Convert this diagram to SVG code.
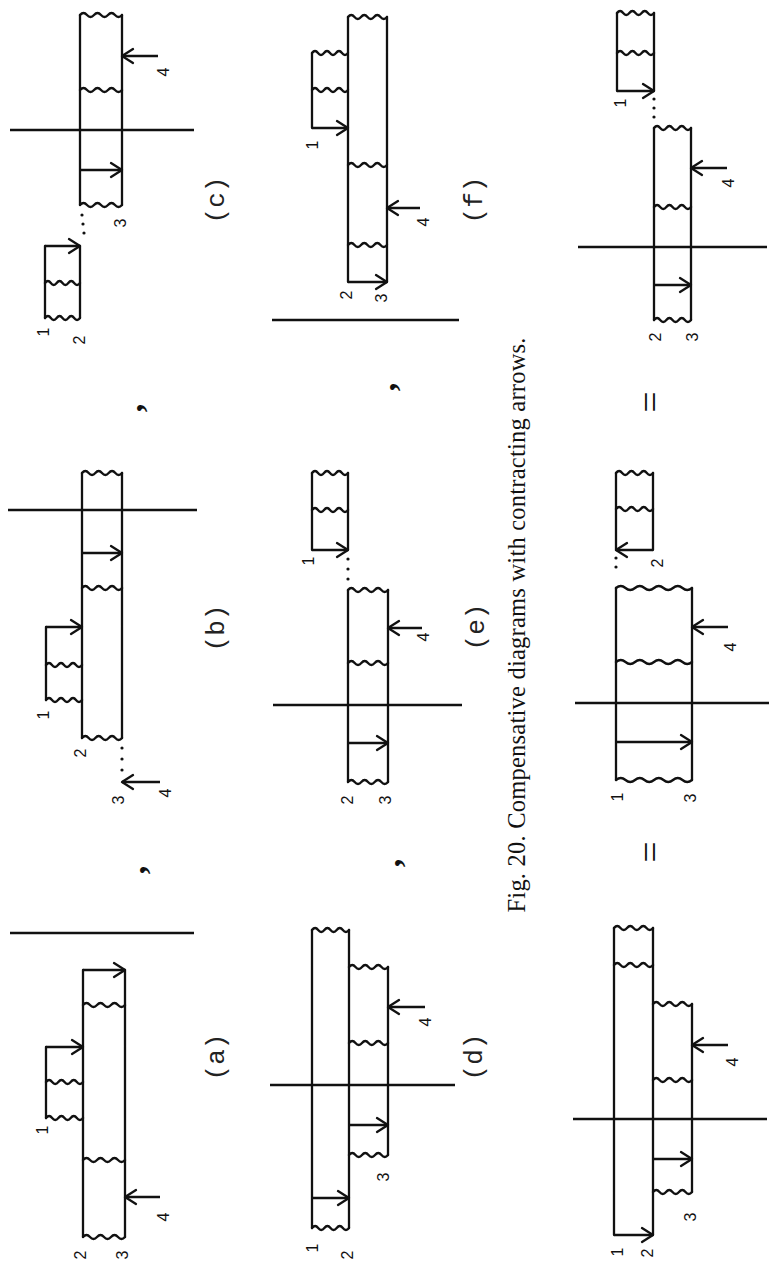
<svg xmlns="http://www.w3.org/2000/svg" width="769" height="1264" viewBox="0 0 769 1264">
<defs>
<marker id="ah" markerUnits="userSpaceOnUse" markerWidth="16" markerHeight="18" viewBox="0 0 16 18" refX="14" refY="9" orient="auto">
<path d="M3,2 L14,9 L3,16" fill="none" stroke="#111" stroke-width="2.3" stroke-linecap="round" stroke-linejoin="round"/>
</marker>
</defs>
<style>
.l{stroke:#111;stroke-width:2.3;fill:none;stroke-linecap:round;stroke-linejoin:round}
.c{stroke:#111;stroke-width:2.6;fill:none}
.a{stroke:#111;stroke-width:2.3;fill:none;marker-end:url(#ah)}
.n{font-family:"Liberation Sans",Arial,sans-serif;font-size:16px;fill:#111;text-anchor:middle;dominant-baseline:central}
.p{font-family:"Liberation Mono","Courier New",monospace;font-size:26px;fill:#222;text-anchor:middle;dominant-baseline:central}
.cap{font-family:"Liberation Serif","Times New Roman",serif;font-size:24.5px;fill:#111;text-anchor:middle}
.eq{font-family:"Liberation Serif","Times New Roman",serif;font-size:38px;fill:#111;text-anchor:middle;dominant-baseline:central}
.cm{font-family:"Liberation Serif","Times New Roman",serif;font-size:34px;font-weight:bold;fill:#111;text-anchor:middle;dominant-baseline:central}
.d{fill:#111}
</style>
<rect width="769" height="1264" fill="#fff"/>

<g id="panel-c">
<path class="l" d="M80,15V205 M122,15V205 M45,246V318 M80,246V318"/>
<path class="l" d="M80,15 q3.5,-4 7,0 t7,0 t7,0 t7,0 t7,0 t7,0 M80,90 q3.5,-4 7,0 t7,0 t7,0 t7,0 t7,0 t7,0 M80,205 q3.5,-4 7,0 t7,0 t7,0 t7,0 t7,0 t7,0 M45,283 q2.92,-4 5.83,0 t5.83,0 t5.83,0 t5.83,0 t5.83,0 t5.83,0 M45,318 q2.92,-4 5.83,0 t5.83,0 t5.83,0 t5.83,0 t5.83,0 t5.83,0"/>
<path class="a" d="M158,56H122"/>
<path class="a" d="M80,170H122"/>
<path class="a" d="M45,246H80"/>
<path class="c" d="M10,130H194"/>
<circle class="d" cx="82" cy="215" r="1.6"/><circle class="d" cx="83" cy="224" r="1.6"/><circle class="d" cx="84" cy="233" r="1.6"/>
<text class="n" transform="translate(43,332) rotate(-90)">1</text>
<text class="n" transform="translate(79,340) rotate(-90)">2</text>
<text class="n" transform="translate(120,223) rotate(-90)">3</text>
<text class="n" transform="translate(163,72) rotate(-90)">4</text>
<text class="p" transform="translate(217,200) rotate(-90)">(c)</text>
</g>

<g id="panel-b">
<path class="l" d="M82,473V738 M122,473V738 M46,627V700 M82,627V700"/>
<path class="l" d="M82,473 q3.33,-4 6.67,0 t6.67,0 t6.67,0 t6.67,0 t6.67,0 t6.67,0 M82,588 q3.33,-4 6.67,0 t6.67,0 t6.67,0 t6.67,0 t6.67,0 t6.67,0 M82,738 q3.33,-4 6.67,0 t6.67,0 t6.67,0 t6.67,0 t6.67,0 t6.67,0 M46,665 q3,-4 6,0 t6,0 t6,0 t6,0 t6,0 t6,0 M46,700 q3,-4 6,0 t6,0 t6,0 t6,0 t6,0 t6,0"/>
<path class="c" d="M8,510H197"/>
<path class="a" d="M82,553H122"/>
<path class="a" d="M46,627H82"/>
<path class="a" d="M160,782H122"/>
<circle class="d" cx="122" cy="748" r="1.6"/><circle class="d" cx="122" cy="759" r="1.6"/><circle class="d" cx="122" cy="770" r="1.6"/>
<text class="n" transform="translate(43,715) rotate(-90)">1</text>
<text class="n" transform="translate(80,753) rotate(-90)">2</text>
<text class="n" transform="translate(118,800) rotate(-90)">3</text>
<text class="n" transform="translate(165,793) rotate(-90)">4</text>
<text class="p" transform="translate(217,628) rotate(-90)">(b)</text>
</g>

<g id="panel-a">
<path class="l" d="M83,970V1237 M125,970V1237 M46,1047V1118 M83,1047V1118"/>
<path class="l" d="M83,1005 q3.5,-4 7,0 t7,0 t7,0 t7,0 t7,0 t7,0 M83,1160 q3.5,-4 7,0 t7,0 t7,0 t7,0 t7,0 t7,0 M83,1237 q3.5,-4 7,0 t7,0 t7,0 t7,0 t7,0 t7,0 M46,1082 q3.08,-4 6.17,0 t6.17,0 t6.17,0 t6.17,0 t6.17,0 t6.17,0 M46,1118 q3.08,-4 6.17,0 t6.17,0 t6.17,0 t6.17,0 t6.17,0 t6.17,0"/>
<path class="a" d="M83,970H125"/>
<path class="a" d="M46,1047H83"/>
<path class="a" d="M160,1197H125"/>
<path class="c" d="M10,933H194"/>
<text class="n" transform="translate(42,1130) rotate(-90)">1</text>
<text class="n" transform="translate(80,1255) rotate(-90)">2</text>
<text class="n" transform="translate(122,1255) rotate(-90)">3</text>
<text class="n" transform="translate(163,1217) rotate(-90)">4</text>
<text class="p" transform="translate(217,1057) rotate(-90)">(a)</text>
</g>

<g id="panel-f">
<path class="l" d="M348,17V282 M387,17V282 M312,53V128 M348,53V128"/>
<path class="l" d="M348,17 q3.25,-4 6.5,0 t6.5,0 t6.5,0 t6.5,0 t6.5,0 t6.5,0 M348,165 q3.25,-4 6.5,0 t6.5,0 t6.5,0 t6.5,0 t6.5,0 t6.5,0 M348,245 q3.25,-4 6.5,0 t6.5,0 t6.5,0 t6.5,0 t6.5,0 t6.5,0 M312,53 q3,-4 6,0 t6,0 t6,0 t6,0 t6,0 t6,0 M312,90 q3,-4 6,0 t6,0 t6,0 t6,0 t6,0 t6,0"/>
<path class="a" d="M312,128H348"/>
<path class="a" d="M348,282H387"/>
<path class="a" d="M420,208H387"/>
<path class="c" d="M272,320H459"/>
<text class="n" transform="translate(312,145) rotate(-90)">1</text>
<text class="n" transform="translate(346,295) rotate(-90)">2</text>
<text class="n" transform="translate(381,298) rotate(-90)">3</text>
<text class="n" transform="translate(423,222) rotate(-90)">4</text>
<text class="p" transform="translate(475,200) rotate(-90)">(f)</text>
</g>

<g id="panel-e">
<path class="l" d="M312,473V550 M348,473V550 M348,590V782 M388,590V782"/>
<path class="l" d="M312,473 q3,-4 6,0 t6,0 t6,0 t6,0 t6,0 t6,0 M312,510 q3,-4 6,0 t6,0 t6,0 t6,0 t6,0 t6,0 M348,590 q3.33,-4 6.67,0 t6.67,0 t6.67,0 t6.67,0 t6.67,0 t6.67,0 M348,663 q3.33,-4 6.67,0 t6.67,0 t6.67,0 t6.67,0 t6.67,0 t6.67,0 M348,782 q3.33,-4 6.67,0 t6.67,0 t6.67,0 t6.67,0 t6.67,0 t6.67,0"/>
<path class="a" d="M312,550H348"/>
<path class="a" d="M422,628H388"/>
<path class="a" d="M348,743H388"/>
<path class="c" d="M273,705H462"/>
<circle class="d" cx="348" cy="559" r="1.6"/><circle class="d" cx="348" cy="569" r="1.6"/><circle class="d" cx="348" cy="579" r="1.6"/>
<text class="n" transform="translate(308,561) rotate(-90)">1</text>
<text class="n" transform="translate(347,800) rotate(-90)">2</text>
<text class="n" transform="translate(385,800) rotate(-90)">3</text>
<text class="n" transform="translate(423,637) rotate(-90)">4</text>
<text class="p" transform="translate(477,627) rotate(-90)">(e)</text>
</g>

<g id="panel-d">
<path class="l" d="M312,930V1228 M349,930V1228 M388,967V1155"/>
<path class="l" d="M312,930 q3.08,-4 6.17,0 t6.17,0 t6.17,0 t6.17,0 t6.17,0 t6.17,0 M312,1228 q3.08,-4 6.17,0 t6.17,0 t6.17,0 t6.17,0 t6.17,0 t6.17,0 M349,967 q3.25,-4 6.5,0 t6.5,0 t6.5,0 t6.5,0 t6.5,0 t6.5,0 M349,1043 q3.25,-4 6.5,0 t6.5,0 t6.5,0 t6.5,0 t6.5,0 t6.5,0 M349,1155 q3.25,-4 6.5,0 t6.5,0 t6.5,0 t6.5,0 t6.5,0 t6.5,0"/>
<path class="a" d="M312,1198H349"/>
<path class="a" d="M425,1007H388"/>
<path class="a" d="M349,1125H388"/>
<path class="c" d="M270,1085H455"/>
<text class="n" transform="translate(312,1248) rotate(-90)">1</text>
<text class="n" transform="translate(347,1255) rotate(-90)">2</text>
<text class="n" transform="translate(383,1177) rotate(-90)">3</text>
<text class="n" transform="translate(425,1022) rotate(-90)">4</text>
<text class="p" transform="translate(475,1057) rotate(-90)">(d)</text>
</g>

<g id="panel-g">
<path class="l" d="M617,13V91 M654,13V91 M654,128V320 M691,128V320"/>
<path class="l" d="M617,13 q3.08,-4 6.17,0 t6.17,0 t6.17,0 t6.17,0 t6.17,0 t6.17,0 M617,53 q3.08,-4 6.17,0 t6.17,0 t6.17,0 t6.17,0 t6.17,0 t6.17,0 M654,128 q3.08,-4 6.17,0 t6.17,0 t6.17,0 t6.17,0 t6.17,0 t6.17,0 M654,207 q3.08,-4 6.17,0 t6.17,0 t6.17,0 t6.17,0 t6.17,0 t6.17,0 M654,320 q3.08,-4 6.17,0 t6.17,0 t6.17,0 t6.17,0 t6.17,0 t6.17,0"/>
<path class="a" d="M617,91H654"/>
<path class="a" d="M727,168H691"/>
<path class="a" d="M654,285H691"/>
<path class="c" d="M578,247H767"/>
<circle class="d" cx="654" cy="99" r="1.6"/><circle class="d" cx="654" cy="108" r="1.6"/><circle class="d" cx="654" cy="117" r="1.6"/>
<text class="n" transform="translate(620,103) rotate(-90)">1</text>
<text class="n" transform="translate(655,337) rotate(-90)">2</text>
<text class="n" transform="translate(692,337) rotate(-90)">3</text>
<text class="n" transform="translate(728,183) rotate(-90)">4</text>
</g>

<g id="panel-h">
<path class="l" d="M616,473V550 M653,473V550 M616,588V780 M692,588V780"/>
<path class="l" d="M616,473 q3.08,-4 6.17,0 t6.17,0 t6.17,0 t6.17,0 t6.17,0 t6.17,0 M616,509 q3.08,-4 6.17,0 t6.17,0 t6.17,0 t6.17,0 t6.17,0 t6.17,0 M616,588 q4.75,-4 9.5,0 t9.5,0 t9.5,0 t9.5,0 t9.5,0 t9.5,0 t9.5,0 t9.5,0 M616,662 q4.75,-4 9.5,0 t9.5,0 t9.5,0 t9.5,0 t9.5,0 t9.5,0 t9.5,0 t9.5,0 M616,780 q4.75,-4 9.5,0 t9.5,0 t9.5,0 t9.5,0 t9.5,0 t9.5,0 t9.5,0 t9.5,0"/>
<path class="a" d="M653,550H616"/>
<path class="a" d="M728,627H692"/>
<path class="a" d="M616,742H692"/>
<path class="c" d="M575,703H769"/>
<circle class="d" cx="616" cy="558" r="1.6"/><circle class="d" cx="616" cy="567" r="1.6"/>
<text class="n" transform="translate(657,563) rotate(-90)">2</text>
<text class="n" transform="translate(617,797) rotate(-90)">1</text>
<text class="n" transform="translate(690,798) rotate(-90)">3</text>
<text class="n" transform="translate(730,647) rotate(-90)">4</text>
</g>

<g id="panel-i">
<path class="l" d="M614,928V1235 M653,928V1235 M692,1004V1192"/>
<path class="l" d="M614,928 q3.25,-4 6.5,0 t6.5,0 t6.5,0 t6.5,0 t6.5,0 t6.5,0 M614,965 q3.25,-4 6.5,0 t6.5,0 t6.5,0 t6.5,0 t6.5,0 t6.5,0 M653,1004 q3.25,-4 6.5,0 t6.5,0 t6.5,0 t6.5,0 t6.5,0 t6.5,0 M653,1080 q3.25,-4 6.5,0 t6.5,0 t6.5,0 t6.5,0 t6.5,0 t6.5,0 M653,1192 q3.25,-4 6.5,0 t6.5,0 t6.5,0 t6.5,0 t6.5,0 t6.5,0"/>
<path class="a" d="M614,1235H653"/>
<path class="a" d="M728,1045H692"/>
<path class="a" d="M653,1159H692"/>
<path class="c" d="M573,1119H767"/>
<text class="n" transform="translate(617,1252) rotate(-90)">1</text>
<text class="n" transform="translate(647,1253) rotate(-90)">2</text>
<text class="n" transform="translate(690,1217) rotate(-90)">3</text>
<text class="n" transform="translate(732,1062) rotate(-90)">4</text>
</g>

<g id="separators">
<text class="cm" transform="translate(130,408) rotate(-90)">,</text>
<text class="cm" transform="translate(133,870) rotate(-90)">,</text>
<text class="cm" transform="translate(383,387) rotate(-90)">,</text>
<text class="cm" transform="translate(388,863) rotate(-90)">,</text>
<text class="eq" transform="translate(650,402) rotate(-90)">=</text>
<text class="eq" transform="translate(650,852) rotate(-90)">=</text>
</g>

<g id="caption">
<text class="cap" transform="translate(525,625) rotate(-90)" textLength="575" lengthAdjust="spacing">Fig. 20. Compensative diagrams with contracting arrows.</text>
</g>
</svg>
